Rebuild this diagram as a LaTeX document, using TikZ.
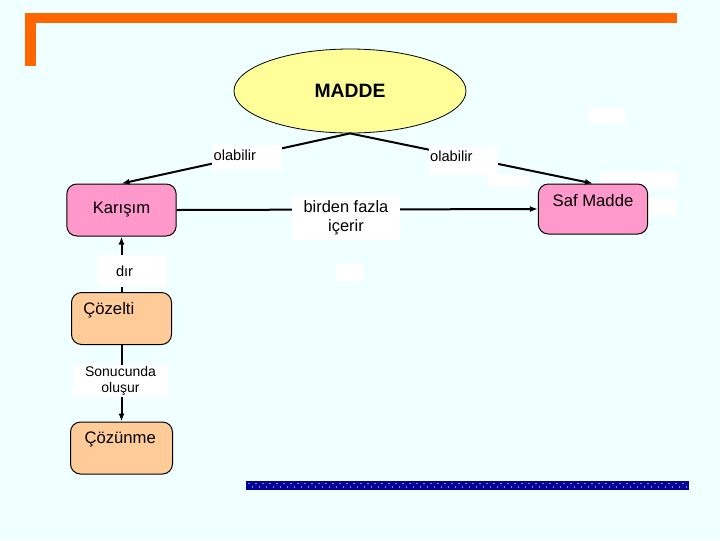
\documentclass[tikz,border=0pt]{standalone}
\usepackage{fontspec}
\setmainfont{Liberation Sans}
\usetikzlibrary{shapes.geometric,arrows.meta}
\definecolor{bgcyan}{HTML}{F0FFFF}
\definecolor{barorange}{HTML}{FF6600}
\definecolor{barblue}{HTML}{000099}
\definecolor{ovalyellow}{HTML}{FFFF99}
\definecolor{boxpink}{HTML}{FF99CC}
\definecolor{boxpeach}{HTML}{FFCC99}
\tikzset{
  concept/.style={draw=black, line width=0.75pt, rounded corners=7.5pt, inner sep=0pt,
    minimum width=82pt, minimum height=39pt, font=\fontsize{12.5}{14}\selectfont},
  linkword/.style={fill=white, inner sep=0pt, align=center, font=\fontsize{11}{13.5}\selectfont},
  link/.style={line width=1.5pt, ->},
  blankbox/.style={fill=white}
}
\begin{document}
\begin{tikzpicture}[x=0.75pt, y=-0.75pt, >={Latex[length=6pt,width=4.5pt]}]
\fill[bgcyan] (0,0) rectangle (720,540);
% frame
\fill[barorange] (25,13) rectangle (677,23);
\fill[barorange] (25,13) rectangle (36,66);
\fill[barblue] (246,481) rectangle (689,490);
\foreach \i in {0,...,62} {
  \fill[white] (249+7*\i,483.5) circle (0.45pt);
  \fill[white] (252.5+7*\i,487) circle (0.45pt);
}
% empty boxes
\fill[blankbox] (588,108) rectangle (626,124);
\fill[blankbox] (488,175) rectangle (530,187);
\fill[blankbox] (600,172) rectangle (677,189);
\fill[blankbox] (648,198) rectangle (677,215);
\fill[blankbox] (337,264) rectangle (363,281);

% concepts
\node[ellipse, draw, line width=0.6pt, fill=ovalyellow, minimum width=174pt, minimum height=63pt,
  inner sep=0pt, font=\bfseries\fontsize{14.5}{16}\selectfont] (madde) at (350,91) {MADDE};
\node[concept, fill=boxpink] (karisim) at (121.5,210) {Karışım};
\node[concept, fill=boxpink, minimum height=37.5pt,
  label={[name=saftext, font=\fontsize{12.5}{14}\selectfont, yshift=6.5pt]center:Saf Madde}] (saf) at (593,209) {};
\node[concept, fill=boxpeach, minimum width=75pt,
  label={[name=cozeltitext, font=\fontsize{12.5}{14}\selectfont, xshift=-9.5pt, yshift=6.4pt]center:Çözelti}] (cozelti) at (121.5,318.5) {};
\node[concept, fill=boxpeach, minimum width=76.5pt,
  label={[name=cozunmetext, font=\fontsize{12.5}{14}\selectfont, xshift=-1pt, yshift=6.4pt]center:Çözünme}] (cozunme) at (121.5,448) {};

% connectors
\draw[link] (madde.south) -- (karisim.north);
\draw[link] (madde.south) -- (saf.north);
\draw[link] (karisim.east) -- (saf.west);
\draw[link] (cozelti.north) -- (karisim.south);
\draw[link] (cozelti.south) -- (cozunme.north);

% linking words
\node[linkword, text width=50pt, align=left, inner xsep=1.5pt, text height=8pt, text depth=4pt, inner ysep=3.4pt] (olab1) at (247,157.5) {olabilir};
\node[linkword, text width=50pt, align=left, inner xsep=1pt, text height=8pt, text depth=6pt, inner ysep=3.9pt] (olab2) at (463.5,160.5) {olabilir};
\node[linkword, minimum width=81pt, minimum height=33.75pt, font=\fontsize{12.3}{14}\selectfont] (birden) at (346,217.5) {birden fazla\\içerir};
\node[linkword, text width=24pt, align=left, inner xsep=14.25pt, minimum height=24pt] (dir) at (132,271) {dır};
\node[linkword, minimum width=71.25pt, minimum height=24pt, font=\fontsize{10.5}{12}\selectfont] (sonucunda) at (120.5,381) {Sonucunda\\oluşur};
\end{tikzpicture}
\end{document}
